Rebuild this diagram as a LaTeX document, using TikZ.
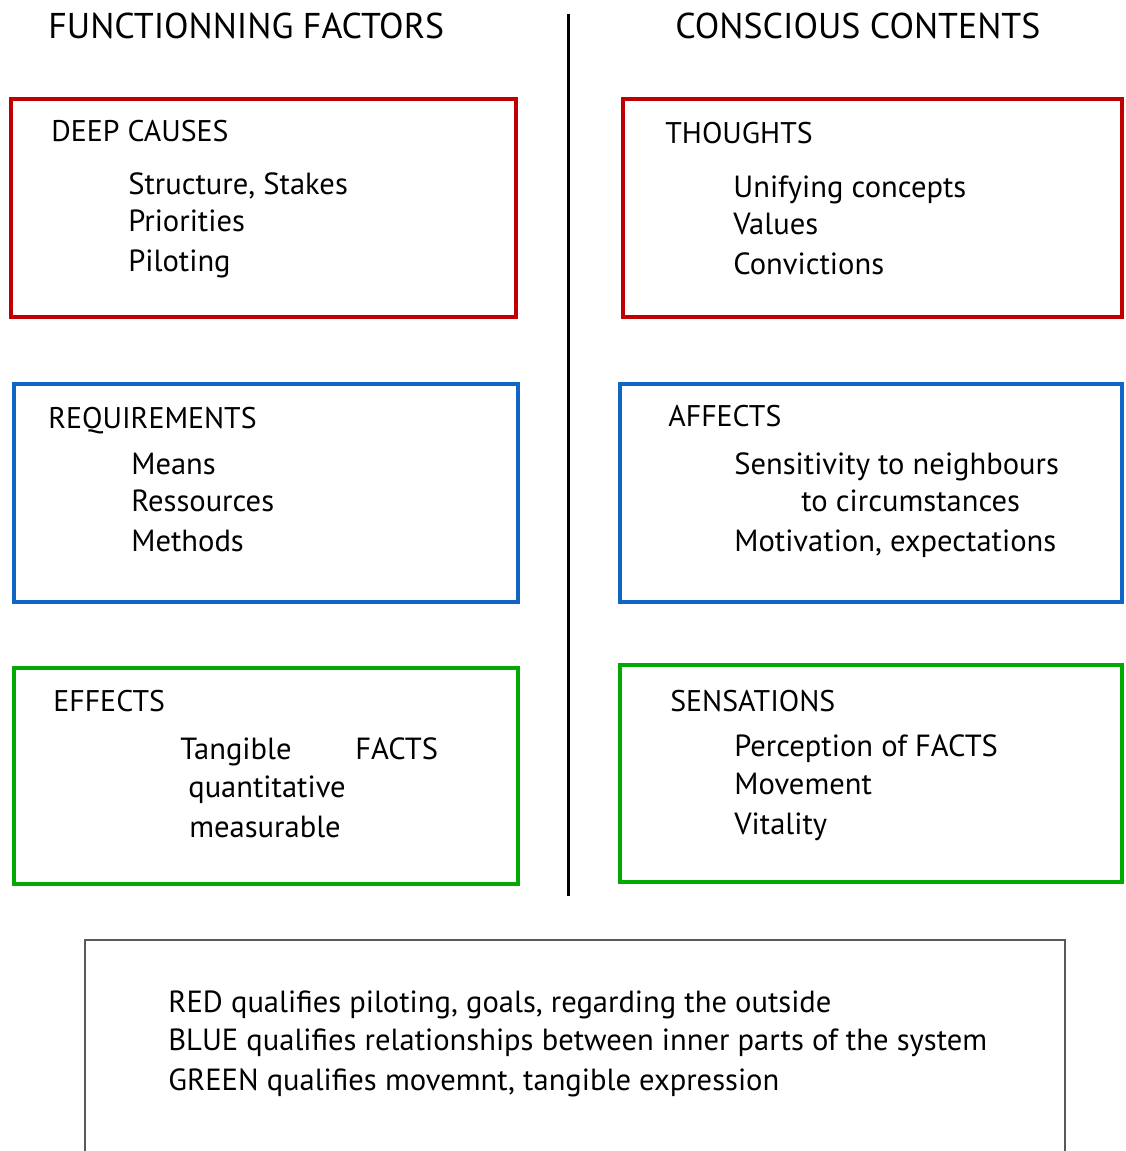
\documentclass[tikz,border=0pt]{standalone}
\usepackage{fontspec}
\setmainfont{PT Sans}
\definecolor{boxred}{RGB}{192,0,0}
\definecolor{boxblue}{RGB}{16,102,196}
\definecolor{boxgreen}{RGB}{0,170,0}
\tikzset{
  frame/.style={line width=2.8pt},
  head/.style={anchor=mid west, inner sep=0pt, yshift=-4pt, font=\fontsize{20.4}{24}\selectfont},
  title/.style={anchor=mid west, inner sep=0pt, yshift=-3.4pt, font=\fontsize{17}{20}\selectfont},
  item/.style={anchor=mid west, inner sep=0pt, yshift=-3.4pt, font=\fontsize{17.4}{20}\selectfont}
}
\begin{document}
\begin{tikzpicture}[x=0.02cm,y=-0.02cm]
        \useasboundingbox (0,0) rectangle (1125,1151);

        % column heads and the separating line
        \node (H0) [head] at (48,27) {FUNCTIONNING FACTORS};
        \node (H1) [head] at (675,27) {CONSCIOUS CONTENTS};
        \coordinate (S0) at (568,14);
        \coordinate (S1) at (568,896);
        \draw[line width=1.7pt] (S0) -- (S1);

        % red row
        \draw[frame, boxred] (11,99) rectangle (516,317);
        \draw[frame, boxred] (623,99) rectangle (1122,317);
        \node (R0) [title] at (51,131) {DEEP CAUSES};
        \node (R1) [item] at (128,184) {Structure, Stakes};
        \node (R2) [item] at (128,221) {Priorities};
        \node (R3) [item] at (128,261) {Piloting};
        \node (R4) [title] at (665,133) {THOUGHTS};
        \node (R5) [item] at (733,187) {Unifying concepts};
        \node (R6) [item] at (733,224) {Values};
        \node (R7) [item] at (733,264) {Convictions};

        % blue row
        \draw[frame, boxblue] (14,384) rectangle (518,602);
        \draw[frame, boxblue] (620,384) rectangle (1122,602);
        \node (B0) [title] at (48,418) {REQUIREMENTS};
        \node (B1) [item] at (131,464) {Means};
        \node (B2) [item] at (131,501) {Ressources};
        \node (B3) [item] at (131,541) {Methods};
        \node (B4) [title] at (668,416) {AFFECTS};
        \node (B5) [item] at (734,464) {Sensitivity to neighbours};
        \node (B6) [item] at (801,501) {to circumstances};
        \node (B7) [item] at (734,541) {Motivation,\ expectations};

        % green row
        \draw[frame, boxgreen] (14,668) rectangle (518,884);
        \draw[frame, boxgreen] (620,665) rectangle (1122,882);
        \node (G0) [title] at (53,701) {EFFECTS};
        \node (G1) [item] at (180,749) {Tangible};
        \node (G2) [item] at (355,749) {FACTS};
        \node (G3) [item] at (188,787) {quantitative};
        \node (G4) [item] at (189,827) {measurable};
        \node (G5) [title] at (670,701) {SENSATIONS};
        \node (G6) [item] at (734,746) {Perception of FACTS};
        \node (G7) [item] at (734,784) {Movement};
        \node (G8) [item] at (734,824) {Vitality};

        % legend
        \draw[line width=1.2pt, black!65] (85,1151) -- (85,940) -- (1065,940) -- (1065,1151);
        \node (L0) [item] at (168,1002) {RED qualifies piloting,\ goals,\ regarding the outside};
        \node (L1) [item] at (168,1040) {BLUE qualifies relationships between inner parts of the system};
        \node (L2) [item] at (168,1080) {GREEN qualifies movemnt, tangible expression};
\end{tikzpicture}
\end{document}
